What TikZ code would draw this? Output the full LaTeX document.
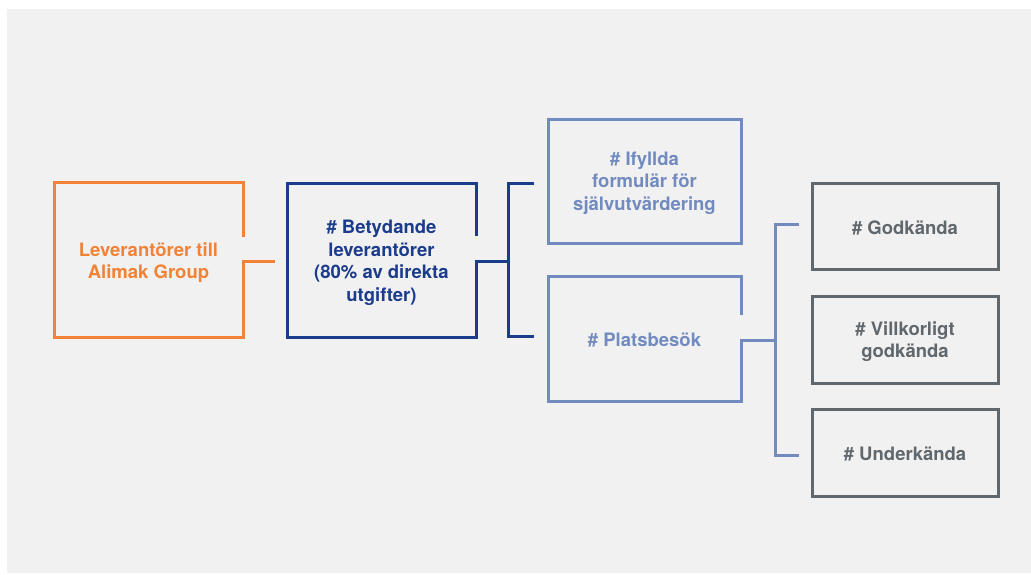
\documentclass[tikz,border=0pt]{standalone}
\usepackage{fontspec}
\setmainfont{TeX Gyre Heros}
\usetikzlibrary{calc}
\definecolor{bgc}{HTML}{F1F1F1}
\definecolor{orangec}{HTML}{F28236}
\definecolor{navyc}{HTML}{1B3B8B}
\definecolor{lightc}{HTML}{728BBF}
\definecolor{grayc}{HTML}{60676D}
\tikzset{
  boxframe/.style={inner sep=0pt, outer sep=0pt},
  boxtext/.style={align=center, inner sep=0pt, outer sep=0pt, font=\bfseries\fontsize{18.5}{22.5}\selectfont},
  orangeline/.style={draw=orangec, line width=3pt},
  navyline/.style={draw=navyc, line width=3pt},
  lightline/.style={draw=lightc, line width=3pt},
  grayline/.style={draw=grayc, line width=3pt},
}
\begin{document}
\begin{tikzpicture}[x=1pt,y=-1pt]
\useasboundingbox (0,0) rectangle (1031,574);
\fill[bgc] (7,9) rectangle (1031,573);

% box frames
\node[boxframe, minimum width=189pt, minimum height=155pt] (sup) at (148.5,259.5) {};
\node[boxframe, minimum width=189pt, minimum height=154pt] (sig) at (381.5,260) {};
\node[boxframe, minimum width=193pt, minimum height=124pt] (self) at (644.5,181) {};
\node[boxframe, minimum width=193pt, minimum height=125pt] (site) at (644.5,338.5) {};
\node[boxframe, minimum width=186pt, minimum height=86pt] (ok) at (905,226) {};
\node[boxframe, minimum width=186pt, minimum height=87pt] (cond) at (905,339.5) {};
\node[boxframe, minimum width=186pt, minimum height=87pt] (fail) at (905,452.5) {};

% texts
\node[boxtext, text=orangec] (suptext) at ([yshift=-3pt]sup.center) {Leverantörer till\\Alimak Group};
\node[boxtext, text=navyc] (sigtext) at ([yshift=-3pt]sig.center) {\# Betydande\\leverantörer\\(80\% av direkta\\utgifter)};
\node[boxtext, text=lightc] (selftext) at ([yshift=-2pt]self.center) {\# Ifyllda\\formulär för\\självutvärdering};
\node[boxtext, text=lightc] (sitetext) at ([yshift=-2pt]site.center) {\# Platsbesök};
\node[boxtext, text=grayc] (oktext) at ([yshift=-2pt]ok.center) {\# Godkända};
\node[boxtext, text=grayc] (condtext) at ([yshift=-2pt]cond.center) {\# Villkorligt\\godkända};
\node[boxtext, text=grayc] (failtext) at ([yshift=-2pt]fail.center) {\# Underkända};

% box outlines
\draw[orangeline] ($(sup.north east)+(0,55)$) -- (sup.north east) -- (sup.north west) -- (sup.south west) -- (sup.south east) -- ($(sup.north east)+(0,79)$) coordinate (supout) -- ++(32,0) coordinate (supend);
\draw[navyline] ($(sig.north east)+(0,53)$) -- (sig.north east) -- (sig.north west) -- (sig.south west) -- (sig.south east) -- ($(sig.north east)+(0,78)$) coordinate (sigout) -- (508,261) coordinate (sigjoin);
\coordinate (na) at (534,183);
\coordinate (nb) at (534,336);
\draw[navyline] (na) -- (508,183) -- (508,336) -- (nb);
\draw[lightline] (self.north west) rectangle (self.south east);
\draw[lightline] ($(site.north east)+(0,39)$) -- (site.north east) -- (site.north west) -- (site.south west) -- (site.south east) -- ($(site.north east)+(0,64)$) coordinate (siteout) -- (775,340) coordinate (sitejoin);
\coordinate (la) at (799,224);
\coordinate (lb) at (799,455);
\draw[lightline] (la) -- (775,224) -- (775,455) -- (lb);
\draw[grayline] (ok.north west) rectangle (ok.south east);
\draw[grayline] (cond.north west) rectangle (cond.south east);
\draw[grayline] (fail.north west) rectangle (fail.south east);
\end{tikzpicture}
\end{document}
